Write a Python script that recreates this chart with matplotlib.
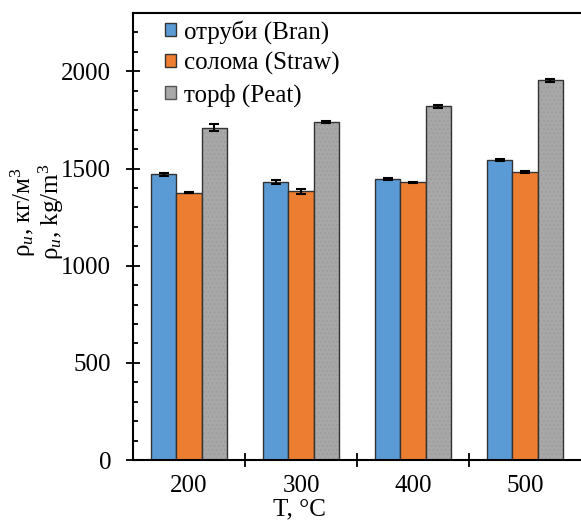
import matplotlib.pyplot as plt
import numpy as np
from matplotlib.patches import Patch

plt.rcParams['font.family'] = ['Liberation Serif', 'DejaVu Serif']
plt.rcParams['mathtext.fontset'] = 'custom'
plt.rcParams['mathtext.rm'] = 'Liberation Serif'
plt.rcParams['mathtext.it'] = 'Liberation Serif:italic'

temps = ['200', '300', '400', '500']
bran = [1471, 1431, 1444, 1546]
bran_err = [8, 12, 5, 5]
straw = [1375, 1382, 1430, 1481]
straw_err = [3, 15, 3, 5]
peat = [1710, 1739, 1820, 1954]
peat_err = [17, 5, 8, 8]

labels = ['отруби (Bran)', 'солома (Straw)', 'торф (Peat)']
colors = ['#5B9BD5', '#ED7D31', '#A8A8A8']

fig = plt.figure(figsize=(5.81, 5.21), dpi=100)
ax = fig.add_axes([0.229, 0.117, 0.771, 0.858])

x = np.arange(len(temps))
w = 0.226
ekw = dict(ecolor='black', elinewidth=1.5, capsize=3.5, capthick=1.5)

ax.bar(x - w, bran, w, color=colors[0], edgecolor='#333333', linewidth=1.0,
       yerr=bran_err, error_kw=ekw)
ax.bar(x, straw, w, color=colors[1], edgecolor='#333333', linewidth=1.0,
       yerr=straw_err, error_kw=ekw)
# peat bars have a fine texture
ax.bar(x + w, peat, w, color=colors[2], edgecolor='#9e9e9e', linewidth=0,
       hatch='....')
ax.bar(x + w, peat, w, fill=False, edgecolor='#333333', linewidth=1.0,
       yerr=peat_err, error_kw=ekw)

handles = [Patch(facecolor=colors[0], edgecolor='#333333'),
           Patch(facecolor=colors[1], edgecolor='#333333'),
           Patch(facecolor=colors[2], edgecolor='#555555')]
ax.legend(handles, labels, loc='upper left', bbox_to_anchor=(0.071, 0.985),
          frameon=False, fontsize=18, handlelength=0.45, handleheight=0.45,
          handletextpad=0.3, labelspacing=0.33, borderaxespad=0, borderpad=0)

ax.set_xlim(-0.5, 3.5)
ax.set_ylim(0, 2300)
ax.set_xticks(x)
ax.set_xticklabels(temps)
ax.set_xticks([0.5, 1.5, 2.5], minor=True)
ax.set_yticks([0, 500, 1000, 1500, 2000])
ax.set_yticks(np.arange(0, 2301, 100), minor=True)

ax.tick_params(axis='x', which='major', length=0, labelsize=18, pad=11)
ax.tick_params(axis='x', which='minor', direction='inout', length=10, width=1.3)
ax.tick_params(axis='y', which='major', direction='inout', length=9.5, width=1.3,
               labelsize=18, pad=11)
ax.tick_params(axis='y', which='minor', direction='in', length=3.5, width=1.3)

for s in ['left', 'bottom', 'top']:
    ax.spines[s].set_linewidth(1.5)
ax.spines['right'].set_visible(False)

ax.set_xlabel('T, °C', fontsize=18, labelpad=0)
ax.xaxis.set_label_coords(0.372, -0.085)
ax.set_ylabel('ρ$_{и}$, кг/м$^3$\nρ$_{и}$, kg/m$^3$', fontsize=18, linespacing=0.95)
ax.yaxis.set_label_coords(-0.149, 0.555)

fig.savefig('out.png', dpi=100)
